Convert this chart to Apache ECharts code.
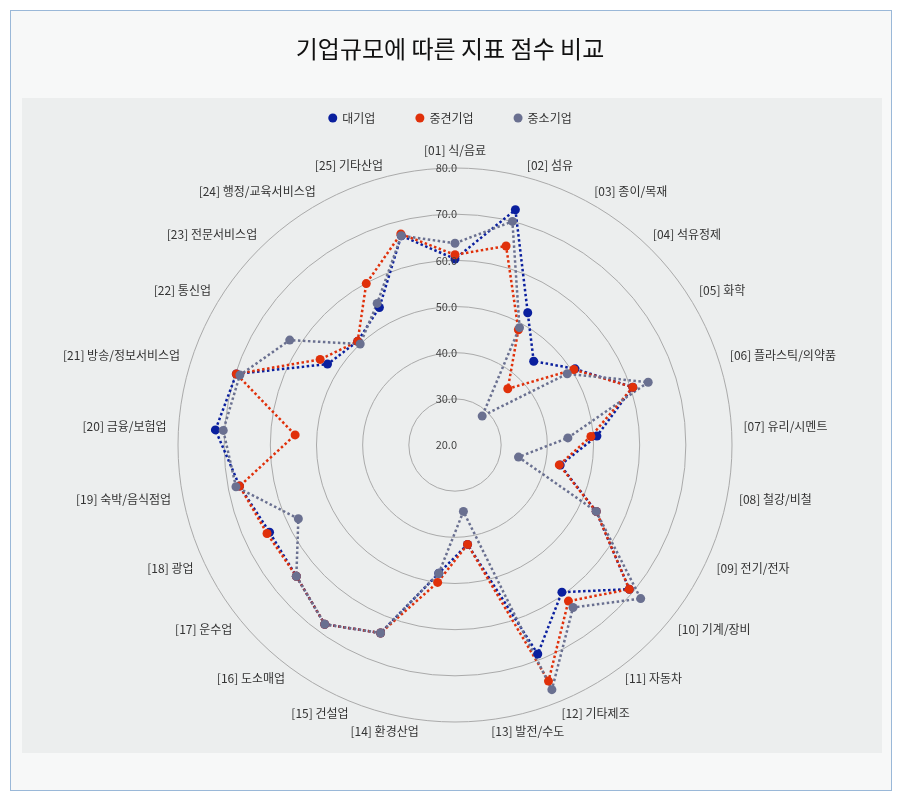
<!DOCTYPE html>
<html><head><meta charset="utf-8">
<script src="https://cdn.jsdelivr.net/npm/echarts@6/dist/echarts.min.js"></script>
<style>html,body{margin:0;padding:0;background:#fff}
#wrap{position:absolute;left:10px;top:10px;width:880px;height:779px;border:1px solid #9ab8d8;background:#f7f8f8}
#c{position:absolute;left:0;top:0;width:900px;height:801px}</style>
</head><body><div id="wrap"></div><div id="c"></div>
<script>
const categories=['[01] 식/음료','[02] 섬유','[03] 종이/목재','[04] 석유정제','[05] 화학','[06] 플라스틱/의약품','[07] 유리/시멘트','[08] 철강/비철','[09] 전기/전자','[10] 기계/장비','[11] 자동차','[12] 기타제조','[13] 발전/수도','[14] 환경산업','[15] 건설업','[16] 도소매업','[17] 운수업','[18] 광업','[19] 숙박/음식점업','[20] 금융/보험업','[21] 방송/정보서비스업','[22] 통신업','[23] 전문서비스업','[24] 행정/교육서비스업','[25] 기타산업'];
const large=[60.3,72.6,52.7,44.9,50.8,60.5,50.8,43.2,53.8,69.0,59.4,68.7,41.7,48.0,63.8,68.0,64.6,64.4,67.5,72.0,69.8,52.7,50.8,54.0,66.8];
const middle=[61.2,64.5,48.5,36.7,50.5,60.5,49.5,43.0,53.8,69.0,61.8,75.0,41.7,50.0,63.8,68.0,64.6,65.0,67.5,54.7,69.8,54.6,50.8,59.9,67.2];
const small=[63.7,70.0,49.0,28.6,48.8,64.0,44.5,34.0,53.8,72.2,63.5,77.0,34.5,48.0,63.8,68.0,64.6,57.5,68.3,70.3,69.0,62.4,50.0,55.0,66.8];
const ticks=[20,30,40,50,60,70,80];
const names=['대기업','중견기업','중소기업'];
const colors=['#0a1f9e','#e0300a','#6a7090'];
// radar runs counter-clockwise; reorder so categories go clockwise
const cw=a=>[a[0]].concat(a.slice(1).reverse());
const chart=echarts.init(document.getElementById('c'));
const mk=(n,d,c)=>({value:cw(d),name:n,symbol:'circle',symbolSize:9,lineStyle:{type:'dotted',width:2.5,color:c},itemStyle:{color:c}});
chart.setOption({
 backgroundColor:'transparent',
 title:{text:'기업규모에 따른 지표 점수 비교',left:'center',top:32,textStyle:{fontSize:24,fontWeight:'normal',color:'#111',fontFamily:'Noto Sans CJK KR'}},
 graphic:[{type:'rect',shape:{x:22,y:98,width:860,height:655},style:{fill:'#eceeee'},z:-10}],
 legend:{top:107,left:'center',data:names,icon:'circle',itemWidth:9,itemHeight:9,itemGap:40,textStyle:{fontSize:12,color:'#333',fontFamily:'Noto Sans CJK KR'}},
 polar:{center:[455,445],radius:277},
 angleAxis:{type:'value',startAngle:90,show:false,min:0,max:360},
 radiusAxis:{type:'value',min:20,max:80,interval:10,axisLine:{show:false},axisTick:{show:false},splitLine:{show:false},
   axisLabel:{formatter:v=>ticks.includes(v)?v.toFixed(1):'',color:'#444',fontSize:11,margin:-2,fontFamily:'Noto Sans CJK KR'},z:5},
 radar:{center:[455,445],radius:277,shape:'circle',splitNumber:6,startAngle:90,
   indicator:cw(categories).map(n=>({name:n,min:20,max:80})),
   axisName:{color:'#333',fontSize:12,fontFamily:'Noto Sans CJK KR'},nameGap:12,
   axisLine:{show:false},axisTick:{show:false},splitArea:{show:false},
   splitLine:{lineStyle:{color:'#aaa',width:1}}},
 series:[{type:'radar',data:[mk(names[0],large,colors[0]),mk(names[1],middle,colors[1]),mk(names[2],small,colors[2])]}],
 color:colors
});
</script></body></html>
